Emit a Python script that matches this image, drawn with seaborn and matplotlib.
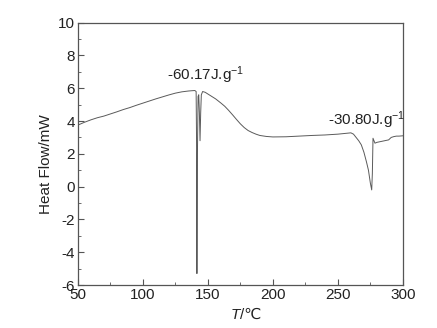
import numpy as np
import pandas as pd
import matplotlib
matplotlib.use("Agg")
import matplotlib.pyplot as plt
from matplotlib.ticker import MultipleLocator
import seaborn as sns

# DSC curve
temp = [50, 55, 60, 65, 70, 75, 80, 85, 90, 95, 100, 105, 110, 115, 120, 125,
        130, 135, 138, 140, 141, 141.3, 141.6, 142, 142.5, 143, 143.5, 144,
        144.5, 145, 146, 148, 150, 153, 156, 160, 163, 166, 169, 172, 175, 178,
        181, 184, 187, 190, 195, 200, 210, 220, 230, 240, 250, 255, 260, 262,
        264, 266, 268, 270, 272, 273.5, 275, 276, 276.5, 277, 278, 278.5, 280,
        283, 286, 289, 291, 293, 295, 297, 300]
heat = [3.75, 3.92, 4.07, 4.2, 4.3, 4.43, 4.56, 4.7, 4.82, 4.96, 5.09, 5.22,
        5.35, 5.47, 5.59, 5.7, 5.78, 5.83, 5.85, 5.86, 5.8, 3.0, -5.3, 2.0,
        5.5, 5.6, 4.5, 2.8, 4.5, 5.6, 5.8, 5.75, 5.65, 5.5, 5.35, 5.1, 4.9,
        4.65, 4.38, 4.1, 3.83, 3.6, 3.42, 3.3, 3.2, 3.12, 3.06, 3.03, 3.04,
        3.08, 3.12, 3.15, 3.2, 3.24, 3.28, 3.2, 3.0, 2.8, 2.55, 2.1, 1.5, 1.0,
        0.2, -0.2, 0.8, 2.95, 2.75, 2.65, 2.7, 2.75, 2.8, 2.85, 3.0, 3.05,
        3.08, 3.08, 3.1]

labels = ["-60.17J.g$^{-1}$", "-30.80J.g$^{-1}$"]
label_x = [148, 272]
label_y = [6.8, 4.05]

df = pd.DataFrame({"T": temp, "HF": heat})

sns.set_style("ticks")
plt.rcParams["font.family"] = ["Liberation Sans", "DejaVu Sans"]
plt.rcParams["mathtext.fontset"] = "custom"
plt.rcParams["mathtext.rm"] = "Liberation Sans"
plt.rcParams["mathtext.it"] = "Liberation Sans:italic"
plt.rcParams["axes.unicode_minus"] = False

fig = plt.figure(figsize=(4.37, 3.28), dpi=100)
ax = fig.add_axes([0.178, 0.131, 0.744, 0.8])
sns.lineplot(data=df, x="T", y="HF", sort=False, estimator=None,
             color="#5a5a5a", linewidth=0.7, ax=ax)

for s, x, y in zip(labels, label_x, label_y):
    ax.text(x, y, s, ha="center", va="center", fontsize=11, color="#222222")

ax.set_xlim(50, 300)
ax.set_ylim(-6, 10)
ax.xaxis.set_major_locator(MultipleLocator(50))
ax.xaxis.set_minor_locator(MultipleLocator(25))
ax.yaxis.set_major_locator(MultipleLocator(2))
ax.yaxis.set_minor_locator(MultipleLocator(1))
ax.tick_params(which="both", direction="in", top=False, right=False,
               color="#555555", labelsize=11, labelcolor="#222222")
ax.tick_params(which="major", length=4, pad=2)
ax.tick_params(which="minor", length=2.5)
for sp in ax.spines.values():
    sp.set_visible(True)
    sp.set_color("#555555")
    sp.set_linewidth(0.9)

# x label: italic T followed by /℃
ax.set_xlabel("")
ax.text(0.5, -0.115, "T", transform=ax.transAxes, ha="right", va="center",
        fontsize=11, fontstyle="italic", color="#222222")
ax.text(0.5, -0.115, "/℃", transform=ax.transAxes, ha="left", va="center",
        fontsize=11, color="#222222")
ax.set_ylabel("Heat Flow/mW", fontsize=11, color="#222222")
ax.yaxis.set_label_coords(-0.075, 0.46)

fig.savefig("out.png", dpi=100)
